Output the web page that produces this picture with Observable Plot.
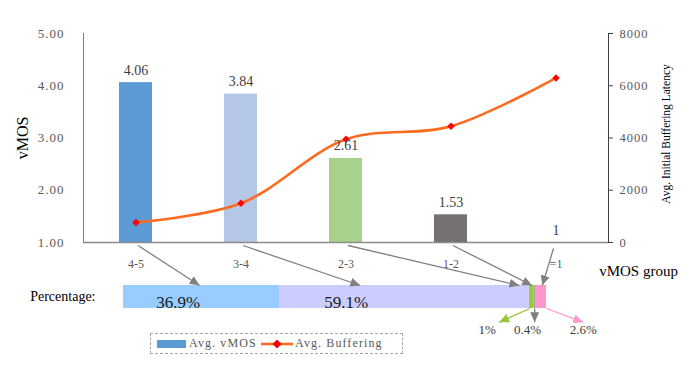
<!DOCTYPE html>
<html><head><meta charset="utf-8">
<script src="https://cdn.jsdelivr.net/npm/d3@7"></script>
<script src="https://cdn.jsdelivr.net/npm/@observablehq/plot@0.6"></script>
<style>
body{margin:0;background:#fff;}
#wrap{position:relative;width:692px;height:380px;overflow:hidden;font-family:"Liberation Serif",serif;background:#fff;}
#wrap > svg{position:absolute;left:0;top:0;}
g[aria-label="bar-values"] text, g[aria-label="x-labels"] text{letter-spacing:1.5px;}
g[aria-label="y-axis tick label"] text{letter-spacing:1px;}
#legend{position:absolute;left:150px;top:333px;width:251px;height:19px;border:1px dashed #a6a6a6;font-size:12px;color:#595959;letter-spacing:1.1px;}
#legend .sw{position:absolute;left:6px;top:6px;width:29px;height:8px;background:#5b9bd5;}
#legend .t1{position:absolute;left:38px;top:2px;}
#legend svg{position:absolute;left:109px;top:3px;}
#legend .t2{position:absolute;left:144px;top:2px;}
</style></head><body><div id="wrap"></div>
<script>
// ---- data ----
const groups = ["4-5", "3-4", "2-3", "1-2", "=1"];
const vmos = [4.06, 3.84, 2.61, 1.53, 1];
const buffering = [770, 1500, 3950, 4450, 6300];
const barColors = ["#5b9bd5", "#b4c7e7", "#a9d18e", "#767171", "#767171"];
const leftTicks = [1, 2, 3, 4, 5];
const rightTicks = [0, 2000, 4000, 6000, 8000];
const pctValues = [36.9, 59.1, 1, 0.4, 2.6];
const pctLabels = ["36.9%", "59.1%", "1%", "0.4%", "2.6%"];
const pctColors = ["#99ccff", "#ccccff", "#99cc33", "#a6a6a6", "#ff99cc"];

const bufMax = 8000;
const toV = b => 1 + b / bufMax * 4;      // buffering mapped onto the vMOS axis
const fromV = v => (v - 1) / 4 * bufMax;
const data = groups.map((g, i) => ({g, v: vmos[i], b: buffering[i], c: barColors[i]}));
const FONT = "'Liberation Serif', 'Times New Roman', serif";
const wrap = document.getElementById("wrap");

const main = Plot.plot({
  width: 692, height: 380,
  marginLeft: 83, marginRight: 84, marginTop: 33, marginBottom: 138,
  style: {background: "transparent", fontFamily: FONT, overflow: "visible"},
  x: {type: "band", domain: groups, paddingInner: 0.69, paddingOuter: 0.345, axis: null},
  y: {domain: [1, 5], axis: null},
  color: {type: "identity"},
  marks: [
    Plot.barY(data, {x: "g", y1: 1, y2: "v", fill: "c"}),
    Plot.ruleY([1], {stroke: "#8c8c8c", strokeWidth: 1.5}),
    Plot.frame({anchor: "left", stroke: "#7f7f7f"}),
    Plot.frame({anchor: "right", stroke: "#404040"}),
    Plot.axisY(leftTicks, {anchor: "left", tickSize: 0, tickPadding: 19, tickFormat: d3.format(".2f"),
      fontSize: 13, fill: "#595959", label: null}),
    Plot.axisY(rightTicks.map(toV), {anchor: "right", tickSize: 4, tickPadding: 7,
      tickFormat: v => String(Math.round(fromV(v))), fontSize: 12.5, fill: "#595959", stroke: "#404040", label: null}),
    Plot.line(data, {x: "g", y: d => toV(d.b), curve: "catmull-rom", stroke: "#ff6a21", strokeWidth: 2.6}),
    Plot.dot(data, {x: "g", y: d => toV(d.b), symbol: "diamond2", r: 3.4, fill: "#ff0000"}),
    Plot.text(data, {x: "g", y: "v", text: d => (d.v % 1 ? d.v.toFixed(2) : String(d.v)), dy: -8,
      lineAnchor: "bottom", fontSize: 14, fill: "#404040", ariaLabel: "bar-values"}),
    Plot.text(data, {x: "g", y: 1, text: "g", dy: 25, lineAnchor: "bottom", fontSize: 12, fill: "#595959", ariaLabel: "x-labels"}),
    Plot.text(["vMOS"], {text: d => d, frameAnchor: "left", textAnchor: "middle", lineAnchor: "middle", dx: -61, rotate: -90, fontSize: 16, fill: "#000"}),
    Plot.text(["Avg. Initial Buffering Latency"], {text: d => d, frameAnchor: "right", textAnchor: "middle", lineAnchor: "middle", dx: 58, dy: -4, rotate: -90, fontSize: 11.5, fill: "#000"}),
    Plot.text(["vMOS group"], {text: d => d, frameAnchor: "bottom-right", textAnchor: "middle", dx: 30, dy: 33, lineAnchor: "bottom", fontSize: 15, fill: "#000"})
  ]
});
wrap.appendChild(main);

// ---- percentage strip ----
const cum = d3.cumsum(pctValues);
const segs = pctValues.map((v, i) => ({v, x1: cum[i] - v, x2: cum[i], label: pctLabels[i], c: pctColors[i]}));
const ovOpts = {
  width: 692, height: 380,
  marginLeft: 123, marginRight: 146, marginTop: 285, marginBottom: 72,
  style: {background: "transparent", fontFamily: FONT, overflow: "visible"},
  x: {domain: [0, 100], axis: null},
  y: {domain: [0, 1], axis: null},
  color: {type: "identity"}
};
const inside = segs.slice(0, 2);
const insideAt = [0.35, 0.266];
const outside = segs.slice(2);
const outsideAt = [86.0, 95.5, 108.7];
const strip = Plot.plot({...ovOpts, marks: [
  Plot.rect(segs, {x1: "x1", x2: "x2", y1: 0, y2: 1, fill: "c"}),
  Plot.text(inside, {x: (d, i) => d.x1 + d.v * insideAt[i], y: 0, dy: -1, lineAnchor: "bottom", text: "label", fontSize: 17, fill: "#1a1a1a"}),
  Plot.text(outside, {x: (d, i) => outsideAt[i], y: -0.6, dy: 12, lineAnchor: "bottom", text: "label", fontSize: 13, fill: "#404040"}),
  Plot.text(["Percentage:"], {text: d => d, frameAnchor: "left", dx: -28, textAnchor: "end", fontSize: 14, fill: "#000"})
]});
wrap.appendChild(strip);

// ---- connecting arrows ----
const mx = main.scale("x"), my = main.scale("y");
const sx = strip.scale("x"), sy = strip.scale("y");
const bw = mx.bandwidth || 0;
const upTargets = [18.0, 56.0, 93.6, 96.6, 99.0];
const upArrows = groups.map((g, i) => {
  const last = i === groups.length - 1;
  return {
    x1: sx.invert(mx.apply(g) + bw / 2 + (last ? -2.5 : 2)),
    y1: sy.invert(my.apply(1) + (last ? 6 : 3)),
    x2: upTargets[i], y2: 1, c: "#808080"
  };
});
const downColors = ["#92c83a", "#808080", "#ff99cc"];
const downArrows = outside.map((d, i) => ({
  x1: i === 0 ? d.x1 : i === 1 ? (d.x1 + d.x2) / 2 : d.x2, y1: 0,
  x2: i === 1 ? (d.x1 + d.x2) / 2 : outsideAt[i] + (i === 0 ? 2.8 : 0), y2: -0.6,
  c: downColors[i]
}));
const arrows = Plot.plot({...ovOpts, marks: [
  Plot.link(upArrows.concat(downArrows), {x1: "x1", y1: "y1", x2: "x2", y2: "y2", stroke: "c", strokeWidth: 1.3, markerEnd: "arrow"})
]});
arrows.querySelectorAll("marker").forEach(m => {
  const col = m.getAttribute("stroke") || "#808080";
  m.setAttribute("viewBox", "-10 -5 10 10");
  m.setAttribute("markerUnits", "userSpaceOnUse");
  m.setAttribute("markerWidth", 10);
  m.setAttribute("markerHeight", 10);
  m.setAttribute("refX", 0);
  m.setAttribute("refY", 0);
  m.setAttribute("fill", col);
  m.setAttribute("stroke", "none");
  const p = m.querySelector("path");
  if (p) p.setAttribute("d", "M-10,-4.5L0,0L-10,4.5Z");
});
wrap.appendChild(arrows);

// ---- legend ----
const lg = document.createElement("div");
lg.id = "legend";
lg.innerHTML = '<div class="sw"></div><span class="t1">Avg. vMOS</span>' +
  '<svg width="34" height="14"><line x1="1" y1="7" x2="33" y2="7" stroke="#ff6a21" stroke-width="2.6"/>' +
  '<path d="M17,2.5L21.5,7L17,11.5L12.5,7Z" fill="#ff0000"/></svg><span class="t2">Avg. Buffering</span>';
wrap.appendChild(lg);
</script></body></html>
